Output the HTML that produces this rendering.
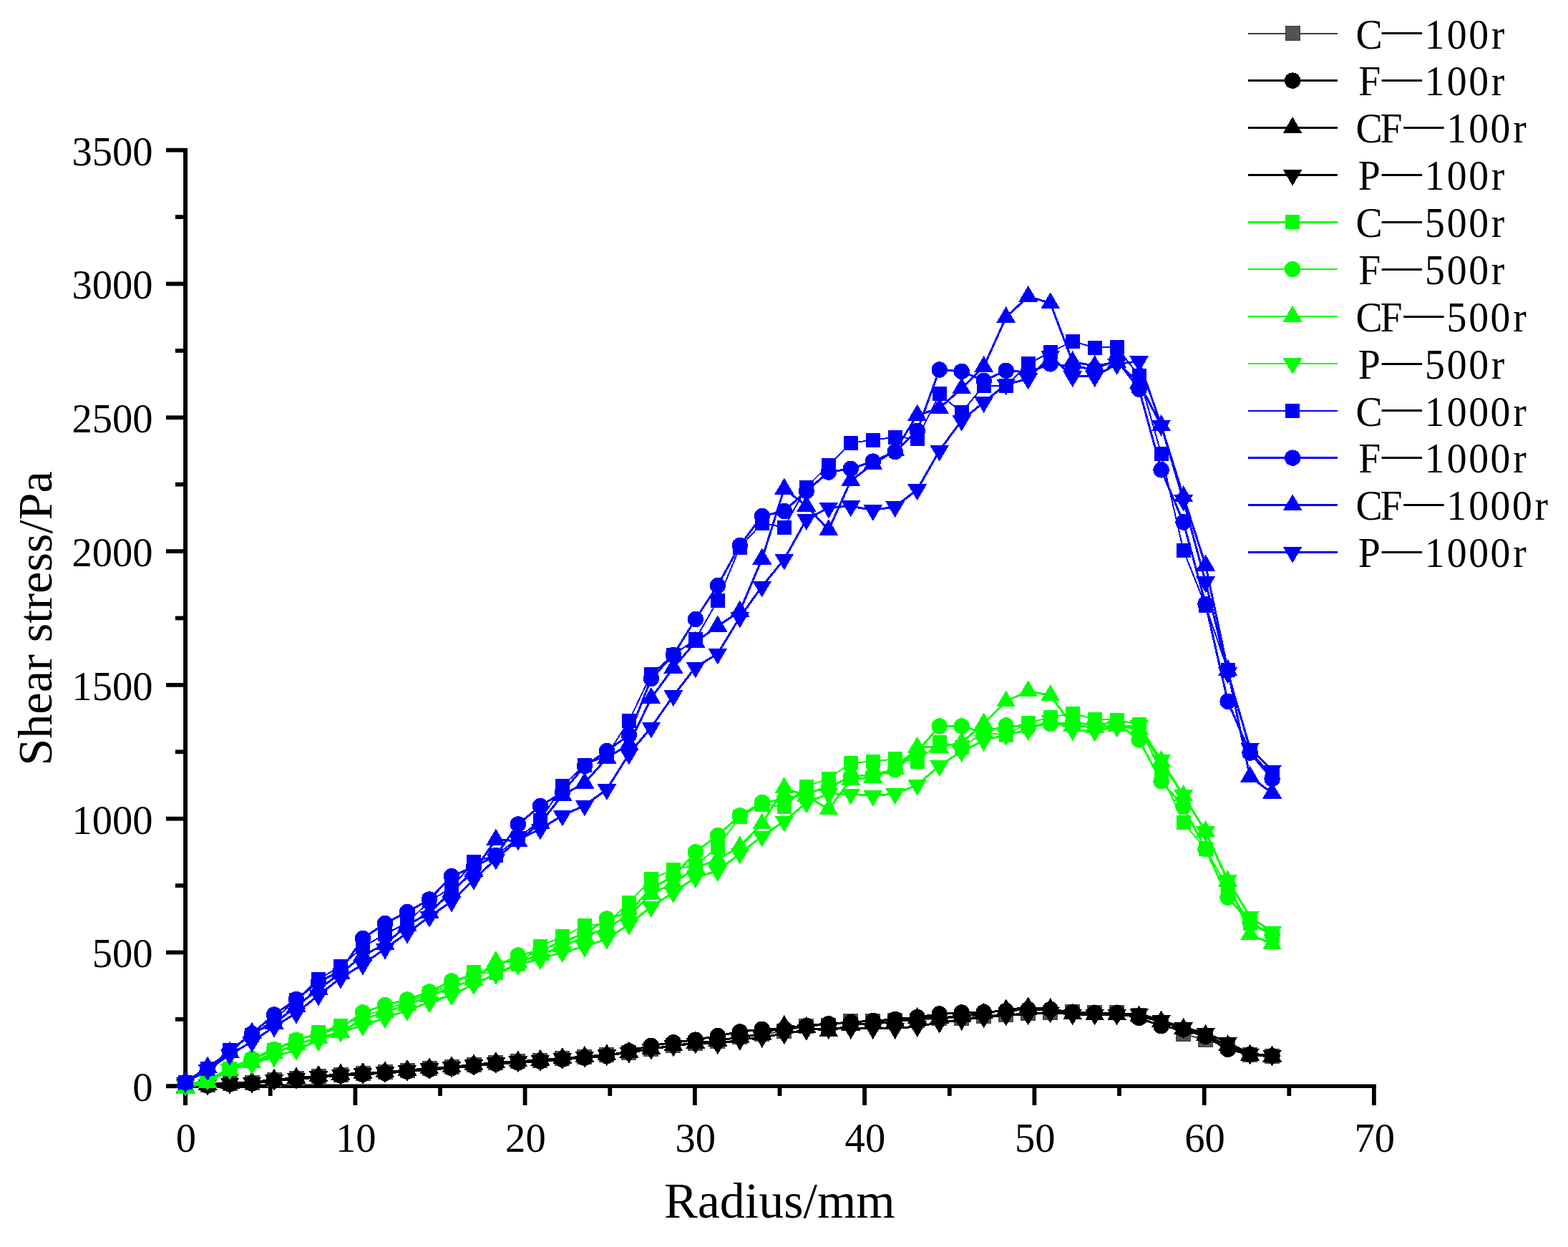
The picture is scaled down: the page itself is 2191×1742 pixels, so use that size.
<!DOCTYPE html><html><head><meta charset="utf-8"><title>Shear stress vs Radius</title>
<style>html,body{margin:0;padding:0;background:#fff;}svg{display:block;}text{font-family:"Liberation Serif","Noto Serif CJK SC",serif;fill:#000;}</style></head><body>
<svg width="2191" height="1742" viewBox="0 0 2191 1742">
<rect width="2191" height="1742" fill="#fff"/>
<g fill="#000">
<rect x="256.1" y="207" width="6" height="1337"/>
<rect x="232" y="1514.6" width="1691" height="5.4"/>
<rect x="232" y="1514.4" width="27.1" height="5.8"/>
<rect x="232" y="1327.6" width="27.1" height="5.8"/>
<rect x="232" y="1140.8" width="27.1" height="5.8"/>
<rect x="232" y="954.0" width="27.1" height="5.8"/>
<rect x="232" y="767.2" width="27.1" height="5.8"/>
<rect x="232" y="580.4" width="27.1" height="5.8"/>
<rect x="232" y="393.6" width="27.1" height="5.8"/>
<rect x="232" y="206.8" width="27.1" height="5.8"/>
<rect x="245" y="1421.0" width="14.1" height="5.8"/>
<rect x="245" y="1234.2" width="14.1" height="5.8"/>
<rect x="245" y="1047.4" width="14.1" height="5.8"/>
<rect x="245" y="860.6" width="14.1" height="5.8"/>
<rect x="245" y="673.8" width="14.1" height="5.8"/>
<rect x="245" y="487.0" width="14.1" height="5.8"/>
<rect x="245" y="300.2" width="14.1" height="5.8"/>
<rect x="256.2" y="1517.3" width="5.8" height="26.7"/>
<rect x="493.5" y="1517.3" width="5.8" height="26.7"/>
<rect x="730.7" y="1517.3" width="5.8" height="26.7"/>
<rect x="968.0" y="1517.3" width="5.8" height="26.7"/>
<rect x="1205.2" y="1517.3" width="5.8" height="26.7"/>
<rect x="1442.5" y="1517.3" width="5.8" height="26.7"/>
<rect x="1679.8" y="1517.3" width="5.8" height="26.7"/>
<rect x="1917.0" y="1517.3" width="5.8" height="26.7"/>
<rect x="374.8" y="1517.3" width="5.8" height="13.7"/>
<rect x="612.1" y="1517.3" width="5.8" height="13.7"/>
<rect x="849.4" y="1517.3" width="5.8" height="13.7"/>
<rect x="1086.6" y="1517.3" width="5.8" height="13.7"/>
<rect x="1323.9" y="1517.3" width="5.8" height="13.7"/>
<rect x="1561.1" y="1517.3" width="5.8" height="13.7"/>
<rect x="1798.4" y="1517.3" width="5.8" height="13.7"/>
</g>
<g shape-rendering="crispEdges">
<path d="M259.1,1517.5 L290.1,1515.0 L321.1,1513.0 L352.1,1512.0 L383.1,1508.3 L414.0,1506.0 L445.0,1503.4 L476.0,1501.0 L507.0,1499.3 L538.0,1497.7 L569.0,1495.3 L600.0,1492.7 L631.0,1490.5 L662.0,1487.6 L692.9,1484.5 L723.9,1482.9 L754.9,1481.2 L785.9,1478.4 L816.9,1476.3 L847.9,1473.7 L878.9,1470.2 L909.9,1465.3 L940.9,1460.8 L971.8,1457.1 L1002.8,1454.4 L1033.8,1448.8 L1064.8,1444.9 L1095.8,1440.5 L1126.8,1433.1 L1157.8,1432.0 L1188.8,1426.6 L1219.8,1426.6 L1250.7,1425.7 L1281.7,1425.7 L1312.7,1422.0 L1343.7,1422.0 L1374.7,1419.0 L1405.7,1417.0 L1436.7,1415.9 L1467.7,1414.0 L1498.7,1413.9 L1529.7,1414.9 L1560.6,1414.9 L1591.6,1418.0 L1622.6,1428.0 L1653.6,1444.5 L1684.6,1452.7 L1715.6,1461.0 L1746.6,1473.0 L1777.6,1475.0" fill="none" stroke="#404040" stroke-width="2.0" stroke-linejoin="round"/>
<g fill="#525252" stroke="#404040" stroke-width="1"><rect x="249.1" y="1507.5" width="20" height="20"/><rect x="280.1" y="1505.0" width="20" height="20"/><rect x="311.1" y="1503.0" width="20" height="20"/><rect x="342.1" y="1502.0" width="20" height="20"/><rect x="373.1" y="1498.3" width="20" height="20"/><rect x="404.0" y="1496.0" width="20" height="20"/><rect x="435.0" y="1493.4" width="20" height="20"/><rect x="466.0" y="1491.0" width="20" height="20"/><rect x="497.0" y="1489.3" width="20" height="20"/><rect x="528.0" y="1487.7" width="20" height="20"/><rect x="559.0" y="1485.3" width="20" height="20"/><rect x="590.0" y="1482.7" width="20" height="20"/><rect x="621.0" y="1480.5" width="20" height="20"/><rect x="652.0" y="1477.6" width="20" height="20"/><rect x="682.9" y="1474.5" width="20" height="20"/><rect x="713.9" y="1472.9" width="20" height="20"/><rect x="744.9" y="1471.2" width="20" height="20"/><rect x="775.9" y="1468.4" width="20" height="20"/><rect x="806.9" y="1466.3" width="20" height="20"/><rect x="837.9" y="1463.7" width="20" height="20"/><rect x="868.9" y="1460.2" width="20" height="20"/><rect x="899.9" y="1455.3" width="20" height="20"/><rect x="930.9" y="1450.8" width="20" height="20"/><rect x="961.8" y="1447.1" width="20" height="20"/><rect x="992.8" y="1444.4" width="20" height="20"/><rect x="1023.8" y="1438.8" width="20" height="20"/><rect x="1054.8" y="1434.9" width="20" height="20"/><rect x="1085.8" y="1430.5" width="20" height="20"/><rect x="1116.8" y="1423.1" width="20" height="20"/><rect x="1147.8" y="1422.0" width="20" height="20"/><rect x="1178.8" y="1416.6" width="20" height="20"/><rect x="1209.8" y="1416.6" width="20" height="20"/><rect x="1240.7" y="1415.7" width="20" height="20"/><rect x="1271.7" y="1415.7" width="20" height="20"/><rect x="1302.7" y="1412.0" width="20" height="20"/><rect x="1333.7" y="1412.0" width="20" height="20"/><rect x="1364.7" y="1409.0" width="20" height="20"/><rect x="1395.7" y="1407.0" width="20" height="20"/><rect x="1426.7" y="1405.9" width="20" height="20"/><rect x="1457.7" y="1404.0" width="20" height="20"/><rect x="1488.7" y="1403.9" width="20" height="20"/><rect x="1519.7" y="1404.9" width="20" height="20"/><rect x="1550.6" y="1404.9" width="20" height="20"/><rect x="1581.6" y="1408.0" width="20" height="20"/><rect x="1612.6" y="1418.0" width="20" height="20"/><rect x="1643.6" y="1434.5" width="20" height="20"/><rect x="1674.6" y="1442.7" width="20" height="20"/><rect x="1705.6" y="1451.0" width="20" height="20"/><rect x="1736.6" y="1463.0" width="20" height="20"/><rect x="1767.6" y="1465.0" width="20" height="20"/></g>
<g fill="#000000"><path d="M259.1,1517.5 L290.1,1516.5 L321.1,1514.5 L352.1,1513.5 L383.1,1509.8 L414.0,1507.5 L445.0,1504.9 L476.0,1502.5 L507.0,1500.8 L538.0,1499.2 L569.0,1496.8 L600.0,1494.2 L631.0,1492.0 L662.0,1489.1 L692.9,1486.0 L723.9,1484.4 L754.9,1482.7 L785.9,1479.9 L816.9,1477.8 L847.9,1475.2 L878.9,1468.2 L909.9,1460.8 L940.9,1456.3 L971.8,1452.6 L1002.8,1447.0 L1033.8,1441.4 L1064.8,1437.7 L1095.8,1437.0 L1126.8,1433.0 L1157.8,1430.3 L1188.8,1428.0 L1219.8,1426.0 L1250.7,1424.0 L1281.7,1421.0 L1312.7,1416.4 L1343.7,1414.5 L1374.7,1414.0 L1405.7,1412.0 L1436.7,1410.0 L1467.7,1410.0 L1498.7,1414.0 L1529.7,1415.0 L1560.6,1415.0 L1591.6,1422.0 L1622.6,1433.3 L1653.6,1438.0 L1684.6,1448.0 L1715.6,1465.9 L1746.6,1473.0 L1777.6,1475.0" fill="none" stroke="#000000" stroke-width="3.0" stroke-linejoin="round"/>
<circle cx="259.1" cy="1517.5" r="11.2"/><circle cx="290.1" cy="1516.5" r="11.2"/><circle cx="321.1" cy="1514.5" r="11.2"/><circle cx="352.1" cy="1513.5" r="11.2"/><circle cx="383.1" cy="1509.8" r="11.2"/><circle cx="414.0" cy="1507.5" r="11.2"/><circle cx="445.0" cy="1504.9" r="11.2"/><circle cx="476.0" cy="1502.5" r="11.2"/><circle cx="507.0" cy="1500.8" r="11.2"/><circle cx="538.0" cy="1499.2" r="11.2"/><circle cx="569.0" cy="1496.8" r="11.2"/><circle cx="600.0" cy="1494.2" r="11.2"/><circle cx="631.0" cy="1492.0" r="11.2"/><circle cx="662.0" cy="1489.1" r="11.2"/><circle cx="692.9" cy="1486.0" r="11.2"/><circle cx="723.9" cy="1484.4" r="11.2"/><circle cx="754.9" cy="1482.7" r="11.2"/><circle cx="785.9" cy="1479.9" r="11.2"/><circle cx="816.9" cy="1477.8" r="11.2"/><circle cx="847.9" cy="1475.2" r="11.2"/><circle cx="878.9" cy="1468.2" r="11.2"/><circle cx="909.9" cy="1460.8" r="11.2"/><circle cx="940.9" cy="1456.3" r="11.2"/><circle cx="971.8" cy="1452.6" r="11.2"/><circle cx="1002.8" cy="1447.0" r="11.2"/><circle cx="1033.8" cy="1441.4" r="11.2"/><circle cx="1064.8" cy="1437.7" r="11.2"/><circle cx="1095.8" cy="1437.0" r="11.2"/><circle cx="1126.8" cy="1433.0" r="11.2"/><circle cx="1157.8" cy="1430.3" r="11.2"/><circle cx="1188.8" cy="1428.0" r="11.2"/><circle cx="1219.8" cy="1426.0" r="11.2"/><circle cx="1250.7" cy="1424.0" r="11.2"/><circle cx="1281.7" cy="1421.0" r="11.2"/><circle cx="1312.7" cy="1416.4" r="11.2"/><circle cx="1343.7" cy="1414.5" r="11.2"/><circle cx="1374.7" cy="1414.0" r="11.2"/><circle cx="1405.7" cy="1412.0" r="11.2"/><circle cx="1436.7" cy="1410.0" r="11.2"/><circle cx="1467.7" cy="1410.0" r="11.2"/><circle cx="1498.7" cy="1414.0" r="11.2"/><circle cx="1529.7" cy="1415.0" r="11.2"/><circle cx="1560.6" cy="1415.0" r="11.2"/><circle cx="1591.6" cy="1422.0" r="11.2"/><circle cx="1622.6" cy="1433.3" r="11.2"/><circle cx="1653.6" cy="1438.0" r="11.2"/><circle cx="1684.6" cy="1448.0" r="11.2"/><circle cx="1715.6" cy="1465.9" r="11.2"/><circle cx="1746.6" cy="1473.0" r="11.2"/><circle cx="1777.6" cy="1475.0" r="11.2"/>
</g>
<g fill="#000000"><path d="M259.1,1519.3 L290.1,1514.8 L321.1,1512.8 L352.1,1511.8 L383.1,1508.1 L414.0,1505.8 L445.0,1503.2 L476.0,1500.8 L507.0,1499.1 L538.0,1497.5 L569.0,1495.1 L600.0,1492.5 L631.0,1490.3 L662.0,1487.4 L692.9,1484.3 L723.9,1482.7 L754.9,1481.0 L785.9,1478.2 L816.9,1476.1 L847.9,1473.5 L878.9,1470.0 L909.9,1465.1 L940.9,1460.6 L971.8,1456.9 L1002.8,1453.8 L1033.8,1448.8 L1064.8,1444.8 L1095.8,1433.2 L1126.8,1435.0 L1157.8,1440.6 L1188.8,1431.8 L1219.8,1429.5 L1250.7,1427.6 L1281.7,1422.0 L1312.7,1421.8 L1343.7,1419.8 L1374.7,1415.5 L1405.7,1410.5 L1436.7,1407.5 L1467.7,1409.1 L1498.7,1416.7 L1529.7,1417.7 L1560.6,1417.7 L1591.6,1419.7 L1622.6,1426.8 L1653.6,1437.1 L1684.6,1446.2 L1715.6,1460.5 L1746.6,1473.8 L1777.6,1475.8" fill="none" stroke="#000000" stroke-width="3.0" stroke-linejoin="round"/>
<polygon points="259.1,1504.0 245.6,1527.0 272.6,1527.0"/><polygon points="290.1,1499.5 276.6,1522.5 303.6,1522.5"/><polygon points="321.1,1497.5 307.6,1520.5 334.6,1520.5"/><polygon points="352.1,1496.5 338.6,1519.5 365.6,1519.5"/><polygon points="383.1,1492.8 369.6,1515.8 396.6,1515.8"/><polygon points="414.0,1490.5 400.5,1513.5 427.5,1513.5"/><polygon points="445.0,1487.9 431.5,1510.9 458.5,1510.9"/><polygon points="476.0,1485.5 462.5,1508.5 489.5,1508.5"/><polygon points="507.0,1483.8 493.5,1506.8 520.5,1506.8"/><polygon points="538.0,1482.2 524.5,1505.2 551.5,1505.2"/><polygon points="569.0,1479.8 555.5,1502.8 582.5,1502.8"/><polygon points="600.0,1477.2 586.5,1500.2 613.5,1500.2"/><polygon points="631.0,1475.0 617.5,1498.0 644.5,1498.0"/><polygon points="662.0,1472.1 648.5,1495.1 675.5,1495.1"/><polygon points="692.9,1469.0 679.4,1492.0 706.4,1492.0"/><polygon points="723.9,1467.4 710.4,1490.4 737.4,1490.4"/><polygon points="754.9,1465.7 741.4,1488.7 768.4,1488.7"/><polygon points="785.9,1462.9 772.4,1485.9 799.4,1485.9"/><polygon points="816.9,1460.8 803.4,1483.8 830.4,1483.8"/><polygon points="847.9,1458.2 834.4,1481.2 861.4,1481.2"/><polygon points="878.9,1454.7 865.4,1477.7 892.4,1477.7"/><polygon points="909.9,1449.8 896.4,1472.8 923.4,1472.8"/><polygon points="940.9,1445.3 927.4,1468.3 954.4,1468.3"/><polygon points="971.8,1441.6 958.3,1464.6 985.3,1464.6"/><polygon points="1002.8,1438.5 989.3,1461.5 1016.3,1461.5"/><polygon points="1033.8,1433.5 1020.3,1456.5 1047.3,1456.5"/><polygon points="1064.8,1429.5 1051.3,1452.5 1078.3,1452.5"/><polygon points="1095.8,1417.9 1082.3,1440.9 1109.3,1440.9"/><polygon points="1126.8,1419.7 1113.3,1442.7 1140.3,1442.7"/><polygon points="1157.8,1425.3 1144.3,1448.3 1171.3,1448.3"/><polygon points="1188.8,1416.5 1175.3,1439.5 1202.3,1439.5"/><polygon points="1219.8,1414.2 1206.3,1437.2 1233.3,1437.2"/><polygon points="1250.7,1412.3 1237.2,1435.3 1264.2,1435.3"/><polygon points="1281.7,1406.7 1268.2,1429.7 1295.2,1429.7"/><polygon points="1312.7,1406.5 1299.2,1429.5 1326.2,1429.5"/><polygon points="1343.7,1404.5 1330.2,1427.5 1357.2,1427.5"/><polygon points="1374.7,1400.2 1361.2,1423.2 1388.2,1423.2"/><polygon points="1405.7,1395.2 1392.2,1418.2 1419.2,1418.2"/><polygon points="1436.7,1392.2 1423.2,1415.2 1450.2,1415.2"/><polygon points="1467.7,1393.8 1454.2,1416.8 1481.2,1416.8"/><polygon points="1498.7,1401.4 1485.2,1424.4 1512.2,1424.4"/><polygon points="1529.7,1402.4 1516.2,1425.4 1543.2,1425.4"/><polygon points="1560.6,1402.4 1547.1,1425.4 1574.1,1425.4"/><polygon points="1591.6,1404.4 1578.1,1427.4 1605.1,1427.4"/><polygon points="1622.6,1411.5 1609.1,1434.5 1636.1,1434.5"/><polygon points="1653.6,1421.8 1640.1,1444.8 1667.1,1444.8"/><polygon points="1684.6,1430.9 1671.1,1453.9 1698.1,1453.9"/><polygon points="1715.6,1445.2 1702.1,1468.2 1729.1,1468.2"/><polygon points="1746.6,1458.5 1733.1,1481.5 1760.1,1481.5"/><polygon points="1777.6,1460.5 1764.1,1483.5 1791.1,1483.5"/>
</g>
<g fill="#000000"><path d="M259.1,1515.7 L290.1,1515.2 L321.1,1513.2 L352.1,1512.2 L383.1,1508.5 L414.0,1506.2 L445.0,1503.6 L476.0,1501.2 L507.0,1499.5 L538.0,1497.9 L569.0,1495.5 L600.0,1492.9 L631.0,1490.7 L662.0,1487.8 L692.9,1484.7 L723.9,1483.1 L754.9,1481.4 L785.9,1478.6 L816.9,1476.5 L847.9,1473.9 L878.9,1470.4 L909.9,1465.5 L940.9,1461.0 L971.8,1457.3 L1002.8,1458.0 L1033.8,1452.5 L1064.8,1448.8 L1095.8,1444.1 L1126.8,1438.6 L1157.8,1436.7 L1188.8,1436.7 L1219.8,1436.7 L1250.7,1436.7 L1281.7,1433.9 L1312.7,1428.4 L1343.7,1424.6 L1374.7,1421.2 L1405.7,1418.2 L1436.7,1417.2 L1467.7,1414.2 L1498.7,1417.2 L1529.7,1417.2 L1560.6,1417.2 L1591.6,1416.2 L1622.6,1425.4 L1653.6,1435.6 L1684.6,1443.2 L1715.6,1456.2 L1746.6,1472.2 L1777.6,1474.2" fill="none" stroke="#000000" stroke-width="3.0" stroke-linejoin="round"/>
<polygon points="259.1,1531.0 245.6,1508.0 272.6,1508.0"/><polygon points="290.1,1530.5 276.6,1507.5 303.6,1507.5"/><polygon points="321.1,1528.5 307.6,1505.5 334.6,1505.5"/><polygon points="352.1,1527.5 338.6,1504.5 365.6,1504.5"/><polygon points="383.1,1523.8 369.6,1500.8 396.6,1500.8"/><polygon points="414.0,1521.5 400.5,1498.5 427.5,1498.5"/><polygon points="445.0,1518.9 431.5,1495.9 458.5,1495.9"/><polygon points="476.0,1516.5 462.5,1493.5 489.5,1493.5"/><polygon points="507.0,1514.8 493.5,1491.8 520.5,1491.8"/><polygon points="538.0,1513.2 524.5,1490.2 551.5,1490.2"/><polygon points="569.0,1510.8 555.5,1487.8 582.5,1487.8"/><polygon points="600.0,1508.2 586.5,1485.2 613.5,1485.2"/><polygon points="631.0,1506.0 617.5,1483.0 644.5,1483.0"/><polygon points="662.0,1503.1 648.5,1480.1 675.5,1480.1"/><polygon points="692.9,1500.0 679.4,1477.0 706.4,1477.0"/><polygon points="723.9,1498.4 710.4,1475.4 737.4,1475.4"/><polygon points="754.9,1496.7 741.4,1473.7 768.4,1473.7"/><polygon points="785.9,1493.9 772.4,1470.9 799.4,1470.9"/><polygon points="816.9,1491.8 803.4,1468.8 830.4,1468.8"/><polygon points="847.9,1489.2 834.4,1466.2 861.4,1466.2"/><polygon points="878.9,1485.7 865.4,1462.7 892.4,1462.7"/><polygon points="909.9,1480.8 896.4,1457.8 923.4,1457.8"/><polygon points="940.9,1476.3 927.4,1453.3 954.4,1453.3"/><polygon points="971.8,1472.6 958.3,1449.6 985.3,1449.6"/><polygon points="1002.8,1473.3 989.3,1450.3 1016.3,1450.3"/><polygon points="1033.8,1467.8 1020.3,1444.8 1047.3,1444.8"/><polygon points="1064.8,1464.1 1051.3,1441.1 1078.3,1441.1"/><polygon points="1095.8,1459.4 1082.3,1436.4 1109.3,1436.4"/><polygon points="1126.8,1453.9 1113.3,1430.9 1140.3,1430.9"/><polygon points="1157.8,1452.0 1144.3,1429.0 1171.3,1429.0"/><polygon points="1188.8,1452.0 1175.3,1429.0 1202.3,1429.0"/><polygon points="1219.8,1452.0 1206.3,1429.0 1233.3,1429.0"/><polygon points="1250.7,1452.0 1237.2,1429.0 1264.2,1429.0"/><polygon points="1281.7,1449.2 1268.2,1426.2 1295.2,1426.2"/><polygon points="1312.7,1443.7 1299.2,1420.7 1326.2,1420.7"/><polygon points="1343.7,1439.9 1330.2,1416.9 1357.2,1416.9"/><polygon points="1374.7,1436.5 1361.2,1413.5 1388.2,1413.5"/><polygon points="1405.7,1433.5 1392.2,1410.5 1419.2,1410.5"/><polygon points="1436.7,1432.5 1423.2,1409.5 1450.2,1409.5"/><polygon points="1467.7,1429.5 1454.2,1406.5 1481.2,1406.5"/><polygon points="1498.7,1432.5 1485.2,1409.5 1512.2,1409.5"/><polygon points="1529.7,1432.5 1516.2,1409.5 1543.2,1409.5"/><polygon points="1560.6,1432.5 1547.1,1409.5 1574.1,1409.5"/><polygon points="1591.6,1431.5 1578.1,1408.5 1605.1,1408.5"/><polygon points="1622.6,1440.7 1609.1,1417.7 1636.1,1417.7"/><polygon points="1653.6,1450.9 1640.1,1427.9 1667.1,1427.9"/><polygon points="1684.6,1458.5 1671.1,1435.5 1698.1,1435.5"/><polygon points="1715.6,1471.5 1702.1,1448.5 1729.1,1448.5"/><polygon points="1746.6,1487.5 1733.1,1464.5 1760.1,1464.5"/><polygon points="1777.6,1489.5 1764.1,1466.5 1791.1,1466.5"/>
</g>
<g fill="#00ff00"><path d="M259.1,1517.5 L290.1,1509.0 L321.1,1492.5 L352.1,1481.0 L383.1,1467.0 L414.0,1454.0 L445.0,1442.0 L476.0,1433.0 L507.0,1420.0 L538.0,1410.0 L569.0,1400.0 L600.0,1388.0 L631.0,1375.0 L662.0,1358.4 L692.9,1358.7 L723.9,1347.0 L754.9,1321.6 L785.9,1308.3 L816.9,1293.2 L847.9,1290.0 L878.9,1261.0 L909.9,1228.0 L940.9,1215.0 L971.8,1208.7 L1002.8,1183.7 L1033.8,1141.0 L1064.8,1124.0 L1095.8,1126.9 L1126.8,1098.5 L1157.8,1087.7 L1188.8,1065.6 L1219.8,1063.6 L1250.7,1060.2 L1281.7,1063.6 L1312.7,1037.0 L1343.7,1043.5 L1374.7,1023.5 L1405.7,1026.8 L1436.7,1010.1 L1467.7,1001.8 L1498.7,996.8 L1529.7,1004.5 L1560.6,1005.5 L1591.6,1012.0 L1622.6,1080.0 L1653.6,1149.1 L1684.6,1186.2 L1715.6,1240.0 L1746.6,1290.0 L1777.6,1306.7" fill="none" stroke="#00ff00" stroke-width="2.0" stroke-linejoin="round"/>
<rect x="249.1" y="1507.5" width="20" height="20"/><rect x="280.1" y="1499.0" width="20" height="20"/><rect x="311.1" y="1482.5" width="20" height="20"/><rect x="342.1" y="1471.0" width="20" height="20"/><rect x="373.1" y="1457.0" width="20" height="20"/><rect x="404.0" y="1444.0" width="20" height="20"/><rect x="435.0" y="1432.0" width="20" height="20"/><rect x="466.0" y="1423.0" width="20" height="20"/><rect x="497.0" y="1410.0" width="20" height="20"/><rect x="528.0" y="1400.0" width="20" height="20"/><rect x="559.0" y="1390.0" width="20" height="20"/><rect x="590.0" y="1378.0" width="20" height="20"/><rect x="621.0" y="1365.0" width="20" height="20"/><rect x="652.0" y="1348.4" width="20" height="20"/><rect x="682.9" y="1348.7" width="20" height="20"/><rect x="713.9" y="1337.0" width="20" height="20"/><rect x="744.9" y="1311.6" width="20" height="20"/><rect x="775.9" y="1298.3" width="20" height="20"/><rect x="806.9" y="1283.2" width="20" height="20"/><rect x="837.9" y="1280.0" width="20" height="20"/><rect x="868.9" y="1251.0" width="20" height="20"/><rect x="899.9" y="1218.0" width="20" height="20"/><rect x="930.9" y="1205.0" width="20" height="20"/><rect x="961.8" y="1198.7" width="20" height="20"/><rect x="992.8" y="1173.7" width="20" height="20"/><rect x="1023.8" y="1131.0" width="20" height="20"/><rect x="1054.8" y="1114.0" width="20" height="20"/><rect x="1085.8" y="1116.9" width="20" height="20"/><rect x="1116.8" y="1088.5" width="20" height="20"/><rect x="1147.8" y="1077.7" width="20" height="20"/><rect x="1178.8" y="1055.6" width="20" height="20"/><rect x="1209.8" y="1053.6" width="20" height="20"/><rect x="1240.7" y="1050.2" width="20" height="20"/><rect x="1271.7" y="1053.6" width="20" height="20"/><rect x="1302.7" y="1027.0" width="20" height="20"/><rect x="1333.7" y="1033.5" width="20" height="20"/><rect x="1364.7" y="1013.5" width="20" height="20"/><rect x="1395.7" y="1016.8" width="20" height="20"/><rect x="1426.7" y="1000.1" width="20" height="20"/><rect x="1457.7" y="991.8" width="20" height="20"/><rect x="1488.7" y="986.8" width="20" height="20"/><rect x="1519.7" y="994.5" width="20" height="20"/><rect x="1550.6" y="995.5" width="20" height="20"/><rect x="1581.6" y="1002.0" width="20" height="20"/><rect x="1612.6" y="1070.0" width="20" height="20"/><rect x="1643.6" y="1139.1" width="20" height="20"/><rect x="1674.6" y="1176.2" width="20" height="20"/><rect x="1705.6" y="1230.0" width="20" height="20"/><rect x="1736.6" y="1280.0" width="20" height="20"/><rect x="1767.6" y="1296.7" width="20" height="20"/>
</g>
<g fill="#00ff00"><path d="M259.1,1517.5 L290.1,1509.0 L321.1,1492.5 L352.1,1479.0 L383.1,1466.0 L414.0,1453.0 L445.0,1444.0 L476.0,1436.0 L507.0,1414.4 L538.0,1404.0 L569.0,1396.5 L600.0,1385.5 L631.0,1370.5 L662.0,1362.0 L692.9,1350.4 L723.9,1334.5 L754.9,1328.0 L785.9,1315.0 L816.9,1305.0 L847.9,1283.5 L878.9,1275.0 L909.9,1240.0 L940.9,1225.0 L971.8,1190.4 L1002.8,1167.0 L1033.8,1139.4 L1064.8,1121.0 L1095.8,1116.9 L1126.8,1108.0 L1157.8,1100.0 L1188.8,1085.3 L1219.8,1082.0 L1250.7,1075.3 L1281.7,1050.0 L1312.7,1014.5 L1343.7,1014.5 L1374.7,1023.5 L1405.7,1013.5 L1436.7,1016.0 L1467.7,1011.0 L1498.7,1010.0 L1529.7,1012.0 L1560.6,1010.0 L1591.6,1033.5 L1622.6,1091.3 L1653.6,1127.0 L1684.6,1186.2 L1715.6,1253.6 L1746.6,1288.4 L1777.6,1306.0" fill="none" stroke="#00ff00" stroke-width="3.0" stroke-linejoin="round"/>
<circle cx="259.1" cy="1517.5" r="11.2"/><circle cx="290.1" cy="1509.0" r="11.2"/><circle cx="321.1" cy="1492.5" r="11.2"/><circle cx="352.1" cy="1479.0" r="11.2"/><circle cx="383.1" cy="1466.0" r="11.2"/><circle cx="414.0" cy="1453.0" r="11.2"/><circle cx="445.0" cy="1444.0" r="11.2"/><circle cx="476.0" cy="1436.0" r="11.2"/><circle cx="507.0" cy="1414.4" r="11.2"/><circle cx="538.0" cy="1404.0" r="11.2"/><circle cx="569.0" cy="1396.5" r="11.2"/><circle cx="600.0" cy="1385.5" r="11.2"/><circle cx="631.0" cy="1370.5" r="11.2"/><circle cx="662.0" cy="1362.0" r="11.2"/><circle cx="692.9" cy="1350.4" r="11.2"/><circle cx="723.9" cy="1334.5" r="11.2"/><circle cx="754.9" cy="1328.0" r="11.2"/><circle cx="785.9" cy="1315.0" r="11.2"/><circle cx="816.9" cy="1305.0" r="11.2"/><circle cx="847.9" cy="1283.5" r="11.2"/><circle cx="878.9" cy="1275.0" r="11.2"/><circle cx="909.9" cy="1240.0" r="11.2"/><circle cx="940.9" cy="1225.0" r="11.2"/><circle cx="971.8" cy="1190.4" r="11.2"/><circle cx="1002.8" cy="1167.0" r="11.2"/><circle cx="1033.8" cy="1139.4" r="11.2"/><circle cx="1064.8" cy="1121.0" r="11.2"/><circle cx="1095.8" cy="1116.9" r="11.2"/><circle cx="1126.8" cy="1108.0" r="11.2"/><circle cx="1157.8" cy="1100.0" r="11.2"/><circle cx="1188.8" cy="1085.3" r="11.2"/><circle cx="1219.8" cy="1082.0" r="11.2"/><circle cx="1250.7" cy="1075.3" r="11.2"/><circle cx="1281.7" cy="1050.0" r="11.2"/><circle cx="1312.7" cy="1014.5" r="11.2"/><circle cx="1343.7" cy="1014.5" r="11.2"/><circle cx="1374.7" cy="1023.5" r="11.2"/><circle cx="1405.7" cy="1013.5" r="11.2"/><circle cx="1436.7" cy="1016.0" r="11.2"/><circle cx="1467.7" cy="1011.0" r="11.2"/><circle cx="1498.7" cy="1010.0" r="11.2"/><circle cx="1529.7" cy="1012.0" r="11.2"/><circle cx="1560.6" cy="1010.0" r="11.2"/><circle cx="1591.6" cy="1033.5" r="11.2"/><circle cx="1622.6" cy="1091.3" r="11.2"/><circle cx="1653.6" cy="1127.0" r="11.2"/><circle cx="1684.6" cy="1186.2" r="11.2"/><circle cx="1715.6" cy="1253.6" r="11.2"/><circle cx="1746.6" cy="1288.4" r="11.2"/><circle cx="1777.6" cy="1306.0" r="11.2"/>
</g>
<g fill="#00ff00"><path d="M259.1,1519.8 L290.1,1511.8 L321.1,1495.0 L352.1,1484.4 L383.1,1471.4 L414.0,1458.8 L445.0,1449.8 L476.0,1441.8 L507.0,1423.8 L538.0,1413.8 L569.0,1403.8 L600.0,1391.8 L631.0,1378.8 L662.0,1368.8 L692.9,1343.3 L723.9,1343.8 L754.9,1333.8 L785.9,1321.8 L816.9,1308.8 L847.9,1295.8 L878.9,1278.8 L909.9,1248.8 L940.9,1233.8 L971.8,1212.5 L1002.8,1200.8 L1033.8,1182.5 L1064.8,1150.7 L1095.8,1100.6 L1126.8,1111.8 L1157.8,1130.7 L1188.8,1089.1 L1219.8,1085.8 L1250.7,1073.8 L1281.7,1044.0 L1312.7,1043.8 L1343.7,1037.3 L1374.7,1010.6 L1405.7,979.7 L1436.7,965.5 L1467.7,971.4 L1498.7,1013.8 L1529.7,1015.8 L1560.6,1013.8 L1591.6,1018.8 L1622.6,1063.4 L1653.6,1111.4 L1684.6,1161.5 L1715.6,1230.9 L1746.6,1305.4 L1777.6,1318.7" fill="none" stroke="#00ff00" stroke-width="3.0" stroke-linejoin="round"/>
<polygon points="259.1,1504.5 245.6,1527.5 272.6,1527.5"/><polygon points="290.1,1496.5 276.6,1519.5 303.6,1519.5"/><polygon points="321.1,1479.7 307.6,1502.7 334.6,1502.7"/><polygon points="352.1,1469.1 338.6,1492.1 365.6,1492.1"/><polygon points="383.1,1456.1 369.6,1479.1 396.6,1479.1"/><polygon points="414.0,1443.5 400.5,1466.5 427.5,1466.5"/><polygon points="445.0,1434.5 431.5,1457.5 458.5,1457.5"/><polygon points="476.0,1426.5 462.5,1449.5 489.5,1449.5"/><polygon points="507.0,1408.5 493.5,1431.5 520.5,1431.5"/><polygon points="538.0,1398.5 524.5,1421.5 551.5,1421.5"/><polygon points="569.0,1388.5 555.5,1411.5 582.5,1411.5"/><polygon points="600.0,1376.5 586.5,1399.5 613.5,1399.5"/><polygon points="631.0,1363.5 617.5,1386.5 644.5,1386.5"/><polygon points="662.0,1353.5 648.5,1376.5 675.5,1376.5"/><polygon points="692.9,1328.0 679.4,1351.0 706.4,1351.0"/><polygon points="723.9,1328.5 710.4,1351.5 737.4,1351.5"/><polygon points="754.9,1318.5 741.4,1341.5 768.4,1341.5"/><polygon points="785.9,1306.5 772.4,1329.5 799.4,1329.5"/><polygon points="816.9,1293.5 803.4,1316.5 830.4,1316.5"/><polygon points="847.9,1280.5 834.4,1303.5 861.4,1303.5"/><polygon points="878.9,1263.5 865.4,1286.5 892.4,1286.5"/><polygon points="909.9,1233.5 896.4,1256.5 923.4,1256.5"/><polygon points="940.9,1218.5 927.4,1241.5 954.4,1241.5"/><polygon points="971.8,1197.2 958.3,1220.2 985.3,1220.2"/><polygon points="1002.8,1185.5 989.3,1208.5 1016.3,1208.5"/><polygon points="1033.8,1167.2 1020.3,1190.2 1047.3,1190.2"/><polygon points="1064.8,1135.4 1051.3,1158.4 1078.3,1158.4"/><polygon points="1095.8,1085.3 1082.3,1108.3 1109.3,1108.3"/><polygon points="1126.8,1096.5 1113.3,1119.5 1140.3,1119.5"/><polygon points="1157.8,1115.4 1144.3,1138.4 1171.3,1138.4"/><polygon points="1188.8,1073.8 1175.3,1096.8 1202.3,1096.8"/><polygon points="1219.8,1070.5 1206.3,1093.5 1233.3,1093.5"/><polygon points="1250.7,1058.5 1237.2,1081.5 1264.2,1081.5"/><polygon points="1281.7,1028.7 1268.2,1051.7 1295.2,1051.7"/><polygon points="1312.7,1028.5 1299.2,1051.5 1326.2,1051.5"/><polygon points="1343.7,1022.0 1330.2,1045.0 1357.2,1045.0"/><polygon points="1374.7,995.3 1361.2,1018.3 1388.2,1018.3"/><polygon points="1405.7,964.4 1392.2,987.4 1419.2,987.4"/><polygon points="1436.7,950.2 1423.2,973.2 1450.2,973.2"/><polygon points="1467.7,956.1 1454.2,979.1 1481.2,979.1"/><polygon points="1498.7,998.5 1485.2,1021.5 1512.2,1021.5"/><polygon points="1529.7,1000.5 1516.2,1023.5 1543.2,1023.5"/><polygon points="1560.6,998.5 1547.1,1021.5 1574.1,1021.5"/><polygon points="1591.6,1003.5 1578.1,1026.5 1605.1,1026.5"/><polygon points="1622.6,1048.1 1609.1,1071.1 1636.1,1071.1"/><polygon points="1653.6,1096.1 1640.1,1119.1 1667.1,1119.1"/><polygon points="1684.6,1146.2 1671.1,1169.2 1698.1,1169.2"/><polygon points="1715.6,1215.6 1702.1,1238.6 1729.1,1238.6"/><polygon points="1746.6,1290.1 1733.1,1313.1 1760.1,1313.1"/><polygon points="1777.6,1303.4 1764.1,1326.4 1791.1,1326.4"/>
</g>
<g fill="#00ff00"><path d="M259.1,1516.2 L290.1,1508.2 L321.1,1493.7 L352.1,1486.2 L383.1,1476.2 L414.0,1466.7 L445.0,1453.8 L476.0,1441.6 L507.0,1432.6 L538.0,1422.0 L569.0,1411.7 L600.0,1400.0 L631.0,1390.0 L662.0,1375.0 L692.9,1360.8 L723.9,1347.4 L754.9,1339.9 L785.9,1329.9 L816.9,1322.4 L847.9,1311.5 L878.9,1291.5 L909.9,1266.7 L940.9,1246.7 L971.8,1225.8 L1002.8,1216.6 L1033.8,1192.4 L1064.8,1168.2 L1095.8,1147.3 L1126.8,1121.4 L1157.8,1108.9 L1188.8,1109.2 L1219.8,1111.5 L1250.7,1109.0 L1281.7,1096.5 L1312.7,1069.8 L1343.7,1049.8 L1374.7,1034.7 L1405.7,1026.4 L1436.7,1019.7 L1467.7,1006.2 L1498.7,1019.7 L1529.7,1021.2 L1560.6,1015.0 L1591.6,1014.0 L1622.6,1062.0 L1653.6,1111.0 L1684.6,1162.0 L1715.6,1229.4 L1746.6,1280.5 L1777.6,1301.7" fill="none" stroke="#00ff00" stroke-width="3.0" stroke-linejoin="round"/>
<polygon points="259.1,1531.5 245.6,1508.5 272.6,1508.5"/><polygon points="290.1,1523.5 276.6,1500.5 303.6,1500.5"/><polygon points="321.1,1509.0 307.6,1486.0 334.6,1486.0"/><polygon points="352.1,1501.5 338.6,1478.5 365.6,1478.5"/><polygon points="383.1,1491.5 369.6,1468.5 396.6,1468.5"/><polygon points="414.0,1482.0 400.5,1459.0 427.5,1459.0"/><polygon points="445.0,1469.1 431.5,1446.1 458.5,1446.1"/><polygon points="476.0,1456.9 462.5,1433.9 489.5,1433.9"/><polygon points="507.0,1447.9 493.5,1424.9 520.5,1424.9"/><polygon points="538.0,1437.3 524.5,1414.3 551.5,1414.3"/><polygon points="569.0,1427.0 555.5,1404.0 582.5,1404.0"/><polygon points="600.0,1415.3 586.5,1392.3 613.5,1392.3"/><polygon points="631.0,1405.3 617.5,1382.3 644.5,1382.3"/><polygon points="662.0,1390.3 648.5,1367.3 675.5,1367.3"/><polygon points="692.9,1376.1 679.4,1353.1 706.4,1353.1"/><polygon points="723.9,1362.7 710.4,1339.7 737.4,1339.7"/><polygon points="754.9,1355.2 741.4,1332.2 768.4,1332.2"/><polygon points="785.9,1345.2 772.4,1322.2 799.4,1322.2"/><polygon points="816.9,1337.7 803.4,1314.7 830.4,1314.7"/><polygon points="847.9,1326.8 834.4,1303.8 861.4,1303.8"/><polygon points="878.9,1306.8 865.4,1283.8 892.4,1283.8"/><polygon points="909.9,1282.0 896.4,1259.0 923.4,1259.0"/><polygon points="940.9,1262.0 927.4,1239.0 954.4,1239.0"/><polygon points="971.8,1241.1 958.3,1218.1 985.3,1218.1"/><polygon points="1002.8,1231.9 989.3,1208.9 1016.3,1208.9"/><polygon points="1033.8,1207.7 1020.3,1184.7 1047.3,1184.7"/><polygon points="1064.8,1183.5 1051.3,1160.5 1078.3,1160.5"/><polygon points="1095.8,1162.6 1082.3,1139.6 1109.3,1139.6"/><polygon points="1126.8,1136.7 1113.3,1113.7 1140.3,1113.7"/><polygon points="1157.8,1124.2 1144.3,1101.2 1171.3,1101.2"/><polygon points="1188.8,1124.5 1175.3,1101.5 1202.3,1101.5"/><polygon points="1219.8,1126.8 1206.3,1103.8 1233.3,1103.8"/><polygon points="1250.7,1124.3 1237.2,1101.3 1264.2,1101.3"/><polygon points="1281.7,1111.8 1268.2,1088.8 1295.2,1088.8"/><polygon points="1312.7,1085.1 1299.2,1062.1 1326.2,1062.1"/><polygon points="1343.7,1065.1 1330.2,1042.1 1357.2,1042.1"/><polygon points="1374.7,1050.0 1361.2,1027.0 1388.2,1027.0"/><polygon points="1405.7,1041.7 1392.2,1018.7 1419.2,1018.7"/><polygon points="1436.7,1035.0 1423.2,1012.0 1450.2,1012.0"/><polygon points="1467.7,1021.5 1454.2,998.5 1481.2,998.5"/><polygon points="1498.7,1035.0 1485.2,1012.0 1512.2,1012.0"/><polygon points="1529.7,1036.5 1516.2,1013.5 1543.2,1013.5"/><polygon points="1560.6,1030.3 1547.1,1007.3 1574.1,1007.3"/><polygon points="1591.6,1029.3 1578.1,1006.3 1605.1,1006.3"/><polygon points="1622.6,1077.3 1609.1,1054.3 1636.1,1054.3"/><polygon points="1653.6,1126.3 1640.1,1103.3 1667.1,1103.3"/><polygon points="1684.6,1177.3 1671.1,1154.3 1698.1,1154.3"/><polygon points="1715.6,1244.7 1702.1,1221.7 1729.1,1221.7"/><polygon points="1746.6,1295.8 1733.1,1272.8 1760.1,1272.8"/><polygon points="1777.6,1317.0 1764.1,1294.0 1791.1,1294.0"/>
</g>
<g fill="#0000ff"><path d="M259.1,1512.0 L290.1,1493.0 L321.1,1467.0 L352.1,1446.0 L383.1,1424.0 L414.0,1397.0 L445.0,1368.0 L476.0,1350.0 L507.0,1323.0 L538.0,1305.0 L569.0,1289.0 L600.0,1259.0 L631.0,1240.0 L662.0,1204.0 L692.9,1195.0 L723.9,1171.0 L754.9,1146.0 L785.9,1098.0 L816.9,1069.0 L847.9,1055.0 L878.9,1007.0 L909.9,942.0 L940.9,915.0 L971.8,893.0 L1002.8,839.0 L1033.8,764.5 L1064.8,731.0 L1095.8,736.5 L1126.8,680.5 L1157.8,650.0 L1188.8,618.7 L1219.8,614.8 L1250.7,610.7 L1281.7,612.5 L1312.7,550.4 L1343.7,576.0 L1374.7,538.7 L1405.7,538.7 L1436.7,508.4 L1467.7,492.0 L1498.7,476.9 L1529.7,485.5 L1560.6,484.8 L1591.6,525.3 L1622.6,634.0 L1653.6,769.0 L1684.6,846.0 L1715.6,936.0 L1746.6,1049.0 L1777.6,1084.0" fill="none" stroke="#0000ff" stroke-width="2.0" stroke-linejoin="round"/>
<rect x="249.1" y="1502.0" width="20" height="20"/><rect x="280.1" y="1483.0" width="20" height="20"/><rect x="311.1" y="1457.0" width="20" height="20"/><rect x="342.1" y="1436.0" width="20" height="20"/><rect x="373.1" y="1414.0" width="20" height="20"/><rect x="404.0" y="1387.0" width="20" height="20"/><rect x="435.0" y="1358.0" width="20" height="20"/><rect x="466.0" y="1340.0" width="20" height="20"/><rect x="497.0" y="1313.0" width="20" height="20"/><rect x="528.0" y="1295.0" width="20" height="20"/><rect x="559.0" y="1279.0" width="20" height="20"/><rect x="590.0" y="1249.0" width="20" height="20"/><rect x="621.0" y="1230.0" width="20" height="20"/><rect x="652.0" y="1194.0" width="20" height="20"/><rect x="682.9" y="1185.0" width="20" height="20"/><rect x="713.9" y="1161.0" width="20" height="20"/><rect x="744.9" y="1136.0" width="20" height="20"/><rect x="775.9" y="1088.0" width="20" height="20"/><rect x="806.9" y="1059.0" width="20" height="20"/><rect x="837.9" y="1045.0" width="20" height="20"/><rect x="868.9" y="997.0" width="20" height="20"/><rect x="899.9" y="932.0" width="20" height="20"/><rect x="930.9" y="905.0" width="20" height="20"/><rect x="961.8" y="883.0" width="20" height="20"/><rect x="992.8" y="829.0" width="20" height="20"/><rect x="1023.8" y="754.5" width="20" height="20"/><rect x="1054.8" y="721.0" width="20" height="20"/><rect x="1085.8" y="726.5" width="20" height="20"/><rect x="1116.8" y="670.5" width="20" height="20"/><rect x="1147.8" y="640.0" width="20" height="20"/><rect x="1178.8" y="608.7" width="20" height="20"/><rect x="1209.8" y="604.8" width="20" height="20"/><rect x="1240.7" y="600.7" width="20" height="20"/><rect x="1271.7" y="602.5" width="20" height="20"/><rect x="1302.7" y="540.4" width="20" height="20"/><rect x="1333.7" y="566.0" width="20" height="20"/><rect x="1364.7" y="528.7" width="20" height="20"/><rect x="1395.7" y="528.7" width="20" height="20"/><rect x="1426.7" y="498.4" width="20" height="20"/><rect x="1457.7" y="482.0" width="20" height="20"/><rect x="1488.7" y="466.9" width="20" height="20"/><rect x="1519.7" y="475.5" width="20" height="20"/><rect x="1550.6" y="474.8" width="20" height="20"/><rect x="1581.6" y="515.3" width="20" height="20"/><rect x="1612.6" y="624.0" width="20" height="20"/><rect x="1643.6" y="759.0" width="20" height="20"/><rect x="1674.6" y="836.0" width="20" height="20"/><rect x="1705.6" y="926.0" width="20" height="20"/><rect x="1736.6" y="1039.0" width="20" height="20"/><rect x="1767.6" y="1074.0" width="20" height="20"/>
</g>
<g fill="#0000ff"><path d="M259.1,1512.0 L290.1,1493.0 L321.1,1468.0 L352.1,1444.0 L383.1,1417.5 L414.0,1396.0 L445.0,1372.0 L476.0,1356.0 L507.0,1311.0 L538.0,1290.0 L569.0,1274.0 L600.0,1256.5 L631.0,1224.0 L662.0,1211.0 L692.9,1195.0 L723.9,1151.5 L754.9,1126.0 L785.9,1107.0 L816.9,1070.0 L847.9,1049.0 L878.9,1027.0 L909.9,948.0 L940.9,915.0 L971.8,865.0 L1002.8,818.0 L1033.8,762.0 L1064.8,721.0 L1095.8,714.0 L1126.8,686.0 L1157.8,659.5 L1188.8,654.8 L1219.8,644.6 L1250.7,631.0 L1281.7,601.7 L1312.7,516.5 L1343.7,518.9 L1374.7,531.7 L1405.7,517.7 L1436.7,520.0 L1467.7,508.4 L1498.7,512.0 L1529.7,515.7 L1560.6,502.6 L1591.6,543.7 L1622.6,656.4 L1653.6,729.5 L1684.6,843.7 L1715.6,979.8 L1746.6,1051.7 L1777.6,1088.0" fill="none" stroke="#0000ff" stroke-width="3.0" stroke-linejoin="round"/>
<circle cx="259.1" cy="1512.0" r="11.2"/><circle cx="290.1" cy="1493.0" r="11.2"/><circle cx="321.1" cy="1468.0" r="11.2"/><circle cx="352.1" cy="1444.0" r="11.2"/><circle cx="383.1" cy="1417.5" r="11.2"/><circle cx="414.0" cy="1396.0" r="11.2"/><circle cx="445.0" cy="1372.0" r="11.2"/><circle cx="476.0" cy="1356.0" r="11.2"/><circle cx="507.0" cy="1311.0" r="11.2"/><circle cx="538.0" cy="1290.0" r="11.2"/><circle cx="569.0" cy="1274.0" r="11.2"/><circle cx="600.0" cy="1256.5" r="11.2"/><circle cx="631.0" cy="1224.0" r="11.2"/><circle cx="662.0" cy="1211.0" r="11.2"/><circle cx="692.9" cy="1195.0" r="11.2"/><circle cx="723.9" cy="1151.5" r="11.2"/><circle cx="754.9" cy="1126.0" r="11.2"/><circle cx="785.9" cy="1107.0" r="11.2"/><circle cx="816.9" cy="1070.0" r="11.2"/><circle cx="847.9" cy="1049.0" r="11.2"/><circle cx="878.9" cy="1027.0" r="11.2"/><circle cx="909.9" cy="948.0" r="11.2"/><circle cx="940.9" cy="915.0" r="11.2"/><circle cx="971.8" cy="865.0" r="11.2"/><circle cx="1002.8" cy="818.0" r="11.2"/><circle cx="1033.8" cy="762.0" r="11.2"/><circle cx="1064.8" cy="721.0" r="11.2"/><circle cx="1095.8" cy="714.0" r="11.2"/><circle cx="1126.8" cy="686.0" r="11.2"/><circle cx="1157.8" cy="659.5" r="11.2"/><circle cx="1188.8" cy="654.8" r="11.2"/><circle cx="1219.8" cy="644.6" r="11.2"/><circle cx="1250.7" cy="631.0" r="11.2"/><circle cx="1281.7" cy="601.7" r="11.2"/><circle cx="1312.7" cy="516.5" r="11.2"/><circle cx="1343.7" cy="518.9" r="11.2"/><circle cx="1374.7" cy="531.7" r="11.2"/><circle cx="1405.7" cy="517.7" r="11.2"/><circle cx="1436.7" cy="520.0" r="11.2"/><circle cx="1467.7" cy="508.4" r="11.2"/><circle cx="1498.7" cy="512.0" r="11.2"/><circle cx="1529.7" cy="515.7" r="11.2"/><circle cx="1560.6" cy="502.6" r="11.2"/><circle cx="1591.6" cy="543.7" r="11.2"/><circle cx="1622.6" cy="656.4" r="11.2"/><circle cx="1653.6" cy="729.5" r="11.2"/><circle cx="1684.6" cy="843.7" r="11.2"/><circle cx="1715.6" cy="979.8" r="11.2"/><circle cx="1746.6" cy="1051.7" r="11.2"/><circle cx="1777.6" cy="1088.0" r="11.2"/>
</g>
<g fill="#0000ff"><path d="M259.1,1511.8 L290.1,1490.8 L321.1,1469.8 L352.1,1442.8 L383.1,1429.8 L414.0,1405.8 L445.0,1381.8 L476.0,1359.8 L507.0,1334.8 L538.0,1318.8 L569.0,1292.8 L600.0,1274.8 L631.0,1245.8 L662.0,1216.8 L692.9,1172.8 L723.9,1174.8 L754.9,1149.8 L785.9,1110.8 L816.9,1093.8 L847.9,1058.8 L878.9,1039.8 L909.9,975.3 L940.9,932.8 L971.8,896.8 L1002.8,874.8 L1033.8,853.8 L1064.8,780.8 L1095.8,682.8 L1126.8,706.8 L1157.8,740.3 L1188.8,671.5 L1219.8,648.4 L1250.7,629.5 L1281.7,579.8 L1312.7,570.5 L1343.7,542.5 L1374.7,512.2 L1405.7,443.3 L1436.7,414.1 L1467.7,423.5 L1498.7,505.3 L1529.7,511.3 L1560.6,506.0 L1591.6,534.8 L1622.6,594.5 L1653.6,693.5 L1684.6,789.8 L1715.6,936.1 L1746.6,1085.0 L1777.6,1107.8" fill="none" stroke="#0000ff" stroke-width="3.0" stroke-linejoin="round"/>
<polygon points="259.1,1496.5 245.6,1519.5 272.6,1519.5"/><polygon points="290.1,1475.5 276.6,1498.5 303.6,1498.5"/><polygon points="321.1,1454.5 307.6,1477.5 334.6,1477.5"/><polygon points="352.1,1427.5 338.6,1450.5 365.6,1450.5"/><polygon points="383.1,1414.5 369.6,1437.5 396.6,1437.5"/><polygon points="414.0,1390.5 400.5,1413.5 427.5,1413.5"/><polygon points="445.0,1366.5 431.5,1389.5 458.5,1389.5"/><polygon points="476.0,1344.5 462.5,1367.5 489.5,1367.5"/><polygon points="507.0,1319.5 493.5,1342.5 520.5,1342.5"/><polygon points="538.0,1303.5 524.5,1326.5 551.5,1326.5"/><polygon points="569.0,1277.5 555.5,1300.5 582.5,1300.5"/><polygon points="600.0,1259.5 586.5,1282.5 613.5,1282.5"/><polygon points="631.0,1230.5 617.5,1253.5 644.5,1253.5"/><polygon points="662.0,1201.5 648.5,1224.5 675.5,1224.5"/><polygon points="692.9,1157.5 679.4,1180.5 706.4,1180.5"/><polygon points="723.9,1159.5 710.4,1182.5 737.4,1182.5"/><polygon points="754.9,1134.5 741.4,1157.5 768.4,1157.5"/><polygon points="785.9,1095.5 772.4,1118.5 799.4,1118.5"/><polygon points="816.9,1078.5 803.4,1101.5 830.4,1101.5"/><polygon points="847.9,1043.5 834.4,1066.5 861.4,1066.5"/><polygon points="878.9,1024.5 865.4,1047.5 892.4,1047.5"/><polygon points="909.9,960.0 896.4,983.0 923.4,983.0"/><polygon points="940.9,917.5 927.4,940.5 954.4,940.5"/><polygon points="971.8,881.5 958.3,904.5 985.3,904.5"/><polygon points="1002.8,859.5 989.3,882.5 1016.3,882.5"/><polygon points="1033.8,838.5 1020.3,861.5 1047.3,861.5"/><polygon points="1064.8,765.5 1051.3,788.5 1078.3,788.5"/><polygon points="1095.8,667.5 1082.3,690.5 1109.3,690.5"/><polygon points="1126.8,691.5 1113.3,714.5 1140.3,714.5"/><polygon points="1157.8,725.0 1144.3,748.0 1171.3,748.0"/><polygon points="1188.8,656.2 1175.3,679.2 1202.3,679.2"/><polygon points="1219.8,633.1 1206.3,656.1 1233.3,656.1"/><polygon points="1250.7,614.2 1237.2,637.2 1264.2,637.2"/><polygon points="1281.7,564.5 1268.2,587.5 1295.2,587.5"/><polygon points="1312.7,555.2 1299.2,578.2 1326.2,578.2"/><polygon points="1343.7,527.2 1330.2,550.2 1357.2,550.2"/><polygon points="1374.7,496.9 1361.2,519.9 1388.2,519.9"/><polygon points="1405.7,428.0 1392.2,451.0 1419.2,451.0"/><polygon points="1436.7,398.8 1423.2,421.8 1450.2,421.8"/><polygon points="1467.7,408.2 1454.2,431.2 1481.2,431.2"/><polygon points="1498.7,490.0 1485.2,513.0 1512.2,513.0"/><polygon points="1529.7,496.0 1516.2,519.0 1543.2,519.0"/><polygon points="1560.6,490.7 1547.1,513.7 1574.1,513.7"/><polygon points="1591.6,519.5 1578.1,542.5 1605.1,542.5"/><polygon points="1622.6,579.2 1609.1,602.2 1636.1,602.2"/><polygon points="1653.6,678.2 1640.1,701.2 1667.1,701.2"/><polygon points="1684.6,774.5 1671.1,797.5 1698.1,797.5"/><polygon points="1715.6,920.8 1702.1,943.8 1729.1,943.8"/><polygon points="1746.6,1069.7 1733.1,1092.7 1760.1,1092.7"/><polygon points="1777.6,1092.5 1764.1,1115.5 1791.1,1115.5"/>
</g>
<g fill="#0000ff"><path d="M259.1,1512.2 L290.1,1494.8 L321.1,1473.2 L352.1,1455.2 L383.1,1434.2 L414.0,1415.2 L445.0,1390.2 L476.0,1366.2 L507.0,1347.2 L538.0,1325.2 L569.0,1303.2 L600.0,1280.7 L631.0,1259.2 L662.0,1228.2 L692.9,1200.2 L723.9,1173.2 L754.9,1158.2 L785.9,1139.2 L816.9,1125.2 L847.9,1102.7 L878.9,1053.2 L909.9,1016.2 L940.9,971.9 L971.8,932.2 L1002.8,913.2 L1033.8,862.2 L1064.8,819.2 L1095.8,781.2 L1126.8,725.7 L1157.8,709.2 L1188.8,707.1 L1219.8,712.6 L1250.7,707.9 L1281.7,684.0 L1312.7,629.4 L1343.7,587.4 L1374.7,561.7 L1405.7,537.2 L1436.7,529.1 L1467.7,497.6 L1498.7,525.9 L1529.7,525.9 L1560.6,508.6 L1591.6,504.7 L1622.6,594.4 L1653.6,698.8 L1684.6,813.0 L1715.6,940.0 L1746.6,1045.2 L1777.6,1076.2" fill="none" stroke="#0000ff" stroke-width="3.0" stroke-linejoin="round"/>
<polygon points="259.1,1527.5 245.6,1504.5 272.6,1504.5"/><polygon points="290.1,1510.1 276.6,1487.1 303.6,1487.1"/><polygon points="321.1,1488.5 307.6,1465.5 334.6,1465.5"/><polygon points="352.1,1470.5 338.6,1447.5 365.6,1447.5"/><polygon points="383.1,1449.5 369.6,1426.5 396.6,1426.5"/><polygon points="414.0,1430.5 400.5,1407.5 427.5,1407.5"/><polygon points="445.0,1405.5 431.5,1382.5 458.5,1382.5"/><polygon points="476.0,1381.5 462.5,1358.5 489.5,1358.5"/><polygon points="507.0,1362.5 493.5,1339.5 520.5,1339.5"/><polygon points="538.0,1340.5 524.5,1317.5 551.5,1317.5"/><polygon points="569.0,1318.5 555.5,1295.5 582.5,1295.5"/><polygon points="600.0,1296.0 586.5,1273.0 613.5,1273.0"/><polygon points="631.0,1274.5 617.5,1251.5 644.5,1251.5"/><polygon points="662.0,1243.5 648.5,1220.5 675.5,1220.5"/><polygon points="692.9,1215.5 679.4,1192.5 706.4,1192.5"/><polygon points="723.9,1188.5 710.4,1165.5 737.4,1165.5"/><polygon points="754.9,1173.5 741.4,1150.5 768.4,1150.5"/><polygon points="785.9,1154.5 772.4,1131.5 799.4,1131.5"/><polygon points="816.9,1140.5 803.4,1117.5 830.4,1117.5"/><polygon points="847.9,1118.0 834.4,1095.0 861.4,1095.0"/><polygon points="878.9,1068.5 865.4,1045.5 892.4,1045.5"/><polygon points="909.9,1031.5 896.4,1008.5 923.4,1008.5"/><polygon points="940.9,987.2 927.4,964.2 954.4,964.2"/><polygon points="971.8,947.5 958.3,924.5 985.3,924.5"/><polygon points="1002.8,928.5 989.3,905.5 1016.3,905.5"/><polygon points="1033.8,877.5 1020.3,854.5 1047.3,854.5"/><polygon points="1064.8,834.5 1051.3,811.5 1078.3,811.5"/><polygon points="1095.8,796.5 1082.3,773.5 1109.3,773.5"/><polygon points="1126.8,741.0 1113.3,718.0 1140.3,718.0"/><polygon points="1157.8,724.5 1144.3,701.5 1171.3,701.5"/><polygon points="1188.8,722.4 1175.3,699.4 1202.3,699.4"/><polygon points="1219.8,727.9 1206.3,704.9 1233.3,704.9"/><polygon points="1250.7,723.2 1237.2,700.2 1264.2,700.2"/><polygon points="1281.7,699.3 1268.2,676.3 1295.2,676.3"/><polygon points="1312.7,644.7 1299.2,621.7 1326.2,621.7"/><polygon points="1343.7,602.7 1330.2,579.7 1357.2,579.7"/><polygon points="1374.7,577.0 1361.2,554.0 1388.2,554.0"/><polygon points="1405.7,552.5 1392.2,529.5 1419.2,529.5"/><polygon points="1436.7,544.4 1423.2,521.4 1450.2,521.4"/><polygon points="1467.7,512.9 1454.2,489.9 1481.2,489.9"/><polygon points="1498.7,541.2 1485.2,518.2 1512.2,518.2"/><polygon points="1529.7,541.2 1516.2,518.2 1543.2,518.2"/><polygon points="1560.6,523.9 1547.1,500.9 1574.1,500.9"/><polygon points="1591.6,520.0 1578.1,497.0 1605.1,497.0"/><polygon points="1622.6,609.7 1609.1,586.7 1636.1,586.7"/><polygon points="1653.6,714.1 1640.1,691.1 1667.1,691.1"/><polygon points="1684.6,828.3 1671.1,805.3 1698.1,805.3"/><polygon points="1715.6,955.3 1702.1,932.3 1729.1,932.3"/><polygon points="1746.6,1060.5 1733.1,1037.5 1760.1,1037.5"/><polygon points="1777.6,1091.5 1764.1,1068.5 1791.1,1068.5"/>
</g>
</g>
<g font-size="56.6">
<text x="213.6" y="1538.2" text-anchor="end">0</text>
<text x="213.6" y="1351.4" text-anchor="end">500</text>
<text x="213.6" y="1164.6" text-anchor="end">1000</text>
<text x="213.6" y="977.8" text-anchor="end">1500</text>
<text x="213.6" y="791.0" text-anchor="end">2000</text>
<text x="213.6" y="604.2" text-anchor="end">2500</text>
<text x="213.6" y="417.4" text-anchor="end">3000</text>
<text x="213.6" y="230.6" text-anchor="end">3500</text>
<text x="259.9" y="1608.6" text-anchor="middle">0</text>
<text x="497.2" y="1608.6" text-anchor="middle">10</text>
<text x="734.4" y="1608.6" text-anchor="middle">20</text>
<text x="971.7" y="1608.6" text-anchor="middle">30</text>
<text x="1208.9" y="1608.6" text-anchor="middle">40</text>
<text x="1446.2" y="1608.6" text-anchor="middle">50</text>
<text x="1683.5" y="1608.6" text-anchor="middle">60</text>
<text x="1920.7" y="1608.6" text-anchor="middle">70</text>
</g>
<text x="928" y="1701.2" font-size="70">Radius/mm</text>
<text transform="translate(71.8,1069.8) rotate(-90)" x="0" y="0" font-size="68.3">Shear stress/Pa</text>
<g shape-rendering="crispEdges"><rect x="1743.6" y="45.7" width="125.0" height="2" fill="#404040"/>
<g fill="#525252" stroke="#404040" stroke-width="1"><rect x="1796.1" y="36.7" width="20" height="20"/></g></g>
<text transform="scale(0.93,1)" font-size="60" x="2037.24 2076.40 2140.62 2173.98 2206.67 2240.63" y="67.6 60.4 67.6 67.6 67.6 67.6">C—100r</text>
<g fill="#000000" shape-rendering="crispEdges"><rect x="1743.6" y="111.1" width="125.0" height="3"/>
<circle cx="1806.1" cy="112.6" r="11.2"/></g>
<text transform="scale(0.93,1)" font-size="60" x="2041.06 2076.40 2140.62 2173.98 2206.67 2240.63" y="133.5 126.3 133.5 133.5 133.5 133.5">F—100r</text>
<g fill="#000000" shape-rendering="crispEdges"><rect x="1743.6" y="177.0" width="125.0" height="3"/>
<polygon points="1806.1,163.1 1792.6,186.1 1819.6,186.1"/></g>
<text transform="scale(0.93,1)" font-size="60" x="2037.24 2073.75 2109.09 2173.31 2206.67 2239.35 2273.32" y="199.4 199.4 192.2 199.4 199.4 199.4 199.4">CF—100r</text>
<g fill="#000000" shape-rendering="crispEdges"><rect x="1743.6" y="242.8" width="125.0" height="3"/>
<polygon points="1806.1,259.7 1792.6,236.7 1819.6,236.7"/></g>
<text transform="scale(0.93,1)" font-size="60" x="2040.59 2076.40 2140.62 2173.98 2206.67 2240.63" y="265.2 258.0 265.2 265.2 265.2 265.2">P—100r</text>
<g fill="#00ff00" shape-rendering="crispEdges"><rect x="1743.6" y="308.7" width="125.0" height="3"/>
<rect x="1796.1" y="300.2" width="20" height="20"/></g>
<text transform="scale(0.93,1)" font-size="60" x="2037.24 2076.40 2140.88 2173.98 2206.67 2240.63" y="331.1 323.9 331.1 331.1 331.1 331.1">C—500r</text>
<g fill="#00ff00" shape-rendering="crispEdges"><rect x="1743.6" y="375.1" width="125.0" height="2"/>
<circle cx="1806.1" cy="376.1" r="11.2"/></g>
<text transform="scale(0.93,1)" font-size="60" x="2041.06 2076.40 2140.88 2173.98 2206.67 2240.63" y="397.0 389.8 397.0 397.0 397.0 397.0">F—500r</text>
<g fill="#00ff00" shape-rendering="crispEdges"><rect x="1743.6" y="441.0" width="125.0" height="2"/>
<polygon points="1806.1,426.6 1792.6,449.6 1819.6,449.6"/></g>
<text transform="scale(0.93,1)" font-size="60" x="2037.24 2073.75 2109.09 2173.57 2206.67 2239.35 2273.32" y="462.9 462.9 455.7 462.9 462.9 462.9 462.9">CF—500r</text>
<g fill="#00ff00" shape-rendering="crispEdges"><rect x="1743.6" y="506.9" width="125.0" height="2"/>
<polygon points="1806.1,523.2 1792.6,500.2 1819.6,500.2"/></g>
<text transform="scale(0.93,1)" font-size="60" x="2040.59 2076.40 2140.88 2173.98 2206.67 2240.63" y="528.8 521.6 528.8 528.8 528.8 528.8">P—500r</text>
<g fill="#0000ff" shape-rendering="crispEdges"><rect x="1743.6" y="572.7" width="125.0" height="2"/>
<rect x="1796.1" y="563.7" width="20" height="20"/></g>
<text transform="scale(0.93,1)" font-size="60" x="2037.24 2076.40 2140.62 2173.98 2206.67 2239.35 2273.32" y="594.6 587.4 594.6 594.6 594.6 594.6 594.6">C—1000r</text>
<g fill="#0000ff" shape-rendering="crispEdges"><rect x="1743.6" y="638.1" width="125.0" height="3"/>
<circle cx="1806.1" cy="639.6" r="11.2"/></g>
<text transform="scale(0.93,1)" font-size="60" x="2041.06 2076.40 2140.62 2173.98 2206.67 2239.35 2273.32" y="660.5 653.3 660.5 660.5 660.5 660.5 660.5">F—1000r</text>
<g fill="#0000ff" shape-rendering="crispEdges"><rect x="1743.6" y="704.0" width="125.0" height="3"/>
<polygon points="1806.1,690.2 1792.6,713.2 1819.6,713.2"/></g>
<text transform="scale(0.93,1)" font-size="60" x="2037.24 2073.75 2109.09 2173.31 2206.67 2239.35 2272.04 2306.00" y="726.4 726.4 719.2 726.4 726.4 726.4 726.4 726.4">CF—1000r</text>
<g fill="#0000ff" shape-rendering="crispEdges"><rect x="1743.6" y="769.9" width="125.0" height="3"/>
<polygon points="1806.1,786.7 1792.6,763.7 1819.6,763.7"/></g>
<text transform="scale(0.93,1)" font-size="60" x="2040.59 2076.40 2140.62 2173.98 2206.67 2239.35 2273.32" y="792.3 785.1 792.3 792.3 792.3 792.3 792.3">P—1000r</text>
</svg></body></html>
